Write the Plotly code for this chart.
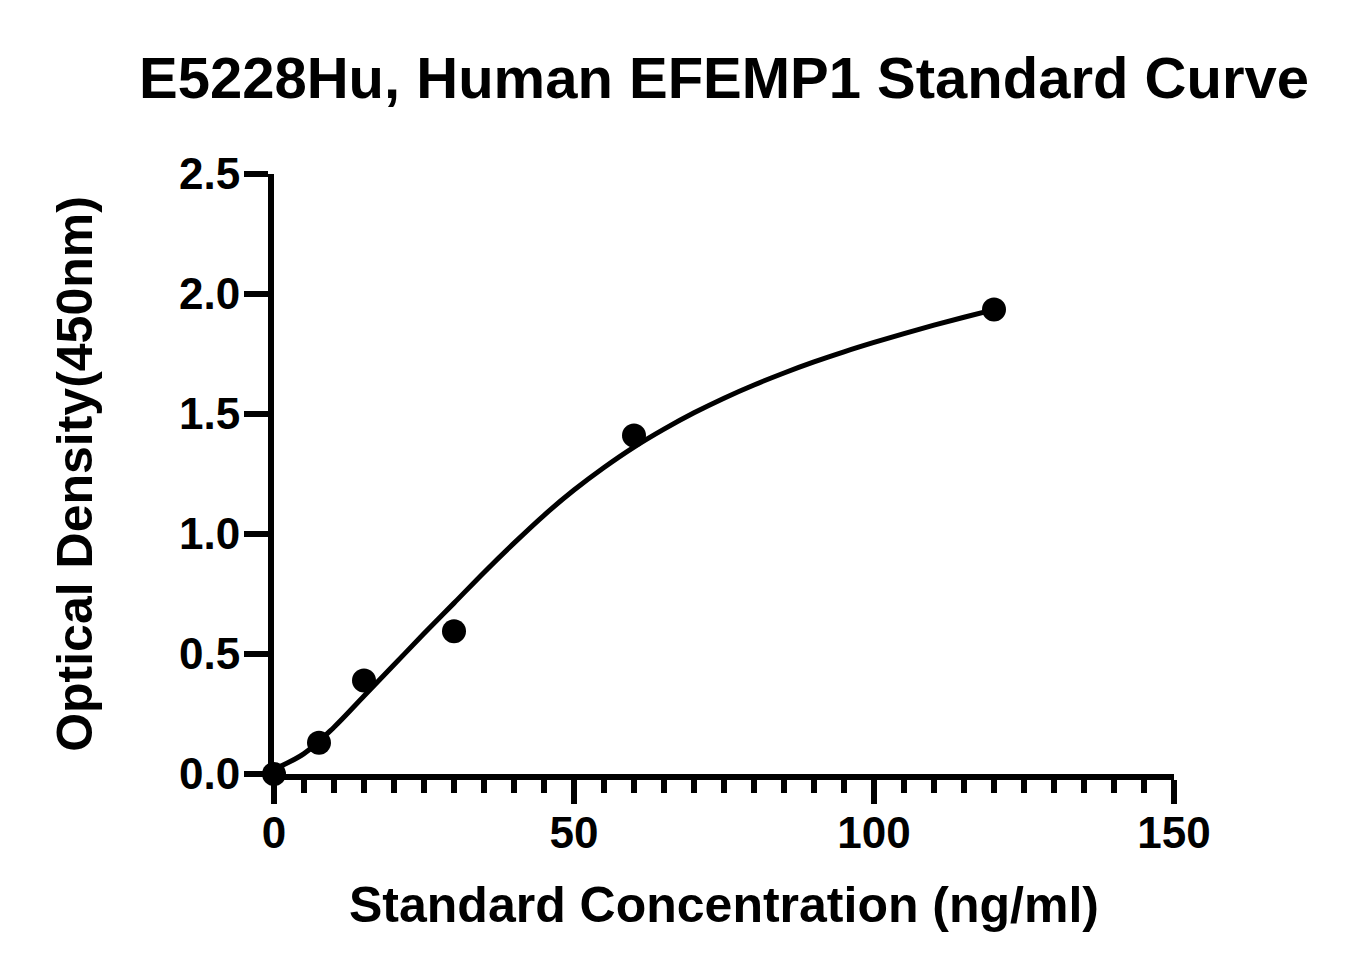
"""
    Standard curve for E5228Hu (Human EFEMP1), recreated with Plotly.
    Writes out.html in the current folder.
"""
import plotly.graph_objects as go

# measured standards
CONC = [0, 7.5, 15, 30, 60, 120]
OD = [0.0, 0.13, 0.39, 0.595, 1.41, 1.935]

# fitted curve, every 5 ng/ml
FIT_CONC = [0, 5, 10, 15, 20, 25, 30, 35, 40, 45, 50, 55, 60,
            65, 70, 75, 80, 85, 90, 95, 100, 105, 110, 115, 120]
FIT_OD = [0.02, 0.085, 0.195, 0.325, 0.455, 0.585, 0.712, 0.84, 0.962,
          1.078, 1.183, 1.277, 1.362, 1.437, 1.505, 1.566, 1.621, 1.671,
          1.717, 1.759, 1.798, 1.835, 1.87, 1.903, 1.935]

X_TICKS = [0, 50, 100, 150]
Y_TICKS = [0.0, 0.5, 1.0, 1.5, 2.0, 2.5]

FONT = "Liberation Sans, Arial, sans-serif"

fig = go.Figure()

fig.add_trace(go.Scatter(
    x=FIT_CONC, y=FIT_OD,
    mode="lines",
    line=dict(color="black", width=5, shape="spline", smoothing=1),
    cliponaxis=False,
    showlegend=False,
    hoverinfo="skip",
))

fig.add_trace(go.Scatter(
    x=CONC, y=OD,
    mode="markers",
    marker=dict(color="black", size=24),
    cliponaxis=False,
    showlegend=False,
    hovertemplate="%{x} ng/ml<br>OD %{y:.3f}<extra></extra>",
))

axis_common = dict(
    showgrid=False,
    zeroline=False,
    showline=True,
    linecolor="black",
    linewidth=6,
    ticks="outside",
    ticklen=24,
    tickwidth=6,
    tickcolor="black",
    tickfont=dict(family=FONT, size=44, color="black", weight="bold"),
)

# the page body adds 8px on the left and top, margins make up for it
fig.update_layout(
    width=1353,
    height=975,
    margin=dict(l=266, r=187, t=166, b=209),
    plot_bgcolor="white",
    paper_bgcolor="white",
    title=dict(
        text="E5228Hu, Human EFEMP1 Standard Curve",
        font=dict(family=FONT, size=58, color="black", weight="bold"),
        x=0.5, xref="paper", xanchor="center",
        y=1 - 70 / 975, yref="container", yanchor="middle",
    ),
    xaxis=dict(
        range=[0, 150],
        tickvals=X_TICKS,
        ticktext=[str(t) for t in X_TICKS],
        ticklabelstandoff=-9,
        minor=dict(dtick=5, tick0=0, ticks="outside", ticklen=13,
                   tickwidth=6, tickcolor="black", showgrid=False),
        title=dict(text="Standard Concentration (ng/ml)",
                   font=dict(family=FONT, size=50, color="black", weight="bold"),
                   standoff=33),
        **axis_common,
    ),
    yaxis=dict(
        range=[0, 2.5],
        tickvals=Y_TICKS,
        ticktext=[f"{t:.1f}" for t in Y_TICKS],
        ticklabelstandoff=-5,
        title=dict(text="Optical Density(450nm)",
                   font=dict(family=FONT, size=50, color="black", weight="bold"),
                   standoff=73),
        **axis_common,
    ),
)

fig.write_html("out.html")
